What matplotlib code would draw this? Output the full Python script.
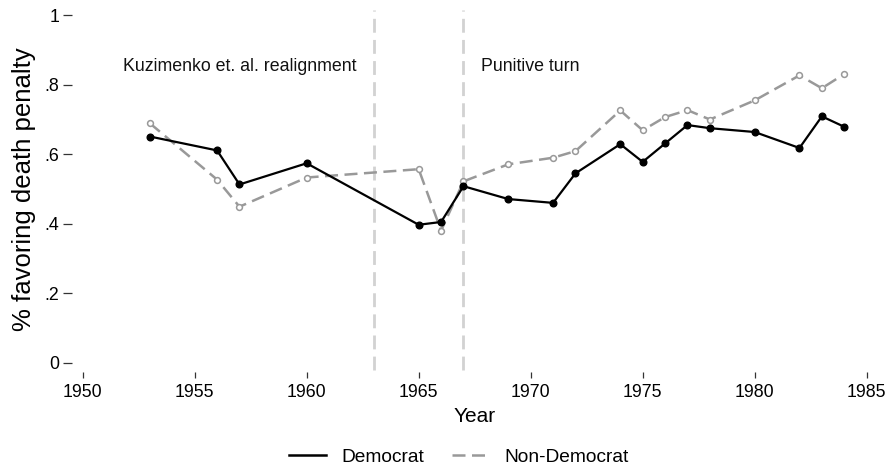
import matplotlib
matplotlib.use("Agg")
import matplotlib.pyplot as plt
from matplotlib.lines import Line2D

plt.rcParams["font.family"] = ["Liberation Sans", "DejaVu Sans"]

# Share of respondents favoring the death penalty, by party identification
years_dem = [1953, 1956, 1957, 1960, 1965, 1966, 1967, 1969, 1971, 1972, 1974,
             1975, 1976, 1977, 1978, 1980, 1982, 1983, 1984]
democrat = [0.651, 0.611, 0.513, 0.574, 0.397, 0.405, 0.508, 0.471, 0.460, 0.545,
            0.629, 0.578, 0.631, 0.684, 0.675, 0.664, 0.618, 0.709, 0.679]

years_non = [1953, 1956, 1957, 1960, 1965, 1966, 1967, 1969, 1971, 1972, 1974,
             1975, 1976, 1977, 1978, 1980, 1982, 1983, 1984]
non_democrat = [0.689, 0.527, 0.449, 0.533, 0.557, 0.380, 0.522, 0.571, 0.590, 0.609,
                0.726, 0.669, 0.707, 0.727, 0.700, 0.755, 0.827, 0.790, 0.831]

period_breaks = [1963, 1967]
period_labels = ["Kuzimenko et. al. realignment", "Punitive turn"]
period_label_x = [1951.8, 1967.8]

x_ticks = [1950, 1955, 1960, 1965, 1970, 1975, 1980, 1985]
y_ticks = [0, 0.2, 0.4, 0.6, 0.8, 1.0]
y_tick_labels = ["0", ".2", ".4", ".6", ".8", "1"]

fig = plt.figure(figsize=(8.91, 4.69), dpi=100)
ax = fig.add_axes([0.0928, 0.2267, 0.8799, 0.7407])
ax.set_xlim(1950, 1985)
ax.set_ylim(0, 1)

gray_line = "#999999"

for xb in period_breaks:
    ax.vlines(xb, -0.02, 1.015, colors="#d2d2d2", linewidth=2.0,
              linestyles=(0, (5, 2.6)), clip_on=False, zorder=1)

ax.plot(years_non, non_democrat, color=gray_line, linewidth=1.8,
        linestyle=(0, (5.2, 2.6)), marker="o", markersize=4.2,
        markerfacecolor="white", markeredgecolor=gray_line, markeredgewidth=1.1,
        zorder=2, clip_on=False)
ax.plot(years_dem, democrat, color="black", linewidth=1.6, marker="o",
        markersize=4.8, markerfacecolor="black", markeredgecolor="black",
        zorder=3, clip_on=False)

for xl, txt in zip(period_label_x, period_labels):
    ax.text(xl, 0.854, txt, fontsize=12.8, ha="left", va="center", color="#111111")

for side in ["top", "right"]:
    ax.spines[side].set_visible(False)
ax.spines["left"].set_position(("outward", 7.7))
ax.spines["bottom"].set_position(("outward", 6.5))
ax.spines["left"].set_visible(False)
ax.spines["bottom"].set_visible(False)

ax.set_xticks(x_ticks)
ax.set_xticklabels([str(v) for v in x_ticks])
ax.set_yticks(y_ticks)
ax.set_yticklabels(y_tick_labels)
ax.tick_params(axis="y", direction="out", length=6.3, width=0.9, pad=3,
               labelsize=12.8, color="#333333", rotation=0)
ax.tick_params(axis="x", direction="out", length=4.0, width=0.9, pad=5,
               labelsize=12.8, color="#333333")

ax.set_xlabel("Year", fontsize=15, labelpad=4)
ax.set_ylabel("% favoring death penalty", fontsize=18.5, labelpad=6)

handles = [
    Line2D([], [], color="black", linewidth=1.8),
    Line2D([], [], color=gray_line, linewidth=1.8, linestyle=(0, (5.2, 2.6))),
]
fig.legend(handles, ["Democrat", "Non-Democrat"], loc="center",
           bbox_to_anchor=(0.515, 0.025), ncol=2, frameon=False,
           fontsize=13.8, handlelength=1.9, handletextpad=0.8, columnspacing=1.5)

fig.savefig("out.png", dpi=100, facecolor="white")
